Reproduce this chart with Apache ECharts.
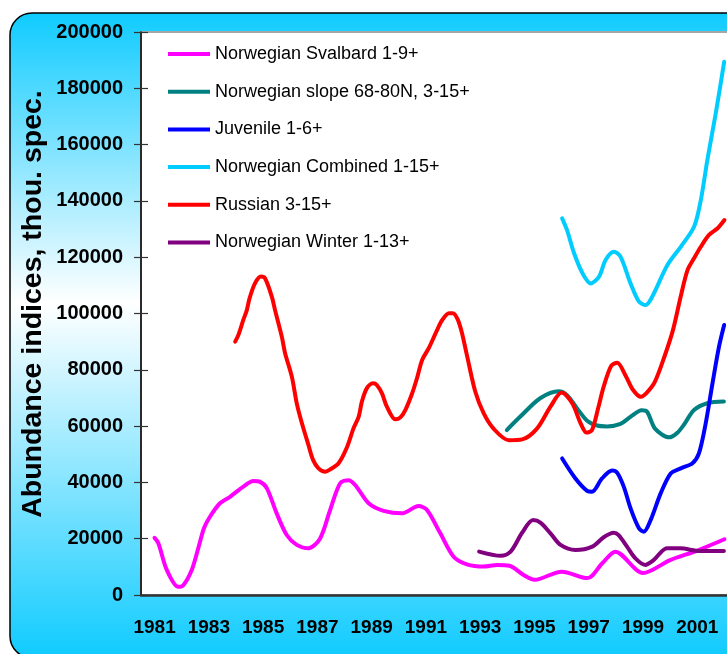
<!DOCTYPE html>
<html>
<head>
<meta charset="utf-8">
<script src="https://cdn.jsdelivr.net/npm/echarts@6/dist/echarts.min.js"></script>
<style>
  html, body { margin: 0; padding: 0; background: #fff; overflow: hidden; }
  /* plot area runs a little past the right edge of the window, as in the source picture */
  #chart { width: 738px; height: 654px; }
</style>
</head>
<body>
<div id="chart"></div>
<script>
// years on the category axis (labels every second year)
var years = ['1981','1982','1983','1984','1985','1986','1987','1988','1989','1990','1991',
             '1992','1993','1994','1995','1996','1997','1998','1999','2000','2001','2002'];

// [year, abundance]
var svalbard = [[1981.0,20300],[1981.14,18400],[1981.45,8900],[1981.87,2900],[1982.06,3500],[1982.37,8900],
  [1982.61,16600],[1982.82,23700],[1983.04,27800],[1983.41,32600],[1983.78,34900],[1984.27,38500],
  [1984.64,40500],[1984.89,40200],[1985.14,37900],[1985.5,29000],[1985.87,21300],[1986.24,17800],
  [1986.67,16600],[1987.1,20100],[1987.47,30200],[1987.84,39700],[1988.15,40800],[1988.4,39000],
  [1988.89,32600],[1989.44,29900],[1990.12,29000],[1990.73,31600],[1991.04,30200],[1991.53,21900],
  [1992.02,13600],[1992.51,10900],[1993.13,10100],[1993.62,10700],[1994.08,10400],[1994.6,7100],
  [1995.0,5400],[1996.0,8300],[1996.95,6000],[1997.5,11300],[1997.98,15400],[1999.0,7800],
  [2000.0,12400],[2001.0,15800],[2002.0,19800]];

var slope = [[1993.98,58600],[1994.47,63300],[1995.21,69900],[1995.89,72400],[1996.2,71000],[1996.57,66300],
  [1996.94,61900],[1997.31,60200],[1997.68,59900],[1998.17,60800],[1998.54,63300],[1998.95,65600],
  [1999.15,65100],[1999.45,59000],[1999.97,56000],[2000.25,57500],[2000.5,60400],[2000.88,65700],
  [2001.37,68100],[2001.98,68700]];

var juvenile = [[1996.02,48500],[1996.51,41400],[1996.94,37000],[1997.12,36700],[1997.49,41400],[1997.86,44200],
  [1998.05,43400],[1998.29,38500],[1998.54,30800],[1998.85,23700],[1999.03,22500],[1999.28,26600],
  [1999.65,36100],[2000.02,43200],[2000.39,45000],[2000.82,46800],[2001.06,50300],[2001.31,61000],
  [2001.56,75200],[2001.8,88200],[2001.99,95900]];

var combined = [[1996.02,133800],[1996.2,129600],[1996.46,121400],[1996.77,114300],[1997.07,110700],
  [1997.38,113100],[1997.62,119000],[1997.93,121900],[1998.17,120200],[1998.54,110700],[1998.85,104200],
  [1999.1,103000],[1999.34,106000],[1999.9,117200],[2000.39,123700],[2000.88,130800],[2001.13,140300],
  [2001.37,154500],[2001.68,171100],[2001.99,189400]];

var russian = [[1983.97,90000],[1984.09,92400],[1984.27,97700],[1984.4,101200],[1984.5,105400],[1984.7,110700],
  [1984.92,113100],[1985.07,112500],[1985.32,106000],[1985.44,101200],[1985.69,91700],[1985.81,85900],
  [1986.06,77500],[1986.24,68100],[1986.43,61000],[1986.67,53300],[1986.84,48000],[1987.04,45000],
  [1987.29,43800],[1987.47,44600],[1987.78,46800],[1988.09,52500],[1988.33,59200],[1988.52,63300],
  [1988.64,68700],[1988.82,73400],[1989.05,75200],[1989.19,74600],[1989.38,71600],[1989.56,66900],
  [1989.87,62400],[1990.06,63100],[1990.24,65700],[1990.49,71600],[1990.67,77000],[1990.86,83500],
  [1991.1,87600],[1991.41,94100],[1991.6,97700],[1991.85,100100],[1991.99,100100],[1992.17,97900],
  [1992.33,93000],[1992.51,85200],[1992.82,72200],[1993.13,64500],[1993.5,59000],[1994.05,55000],
  [1994.55,55300],[1995.1,59200],[1995.59,66900],[1996.0,71900],[1996.39,68100],[1996.7,61000],
  [1996.92,57700],[1997.12,58600],[1997.35,66500],[1997.55,74000],[1997.83,81400],[1998.05,82500],
  [1998.35,78100],[1998.62,73000],[1998.92,70400],[1999.15,72000],[1999.44,75800],[1999.8,85000],
  [2000.1,94000],[2000.4,106500],[2000.64,115400],[2000.88,119600],[2001.13,123700],[2001.43,127900],
  [2001.74,130200],[2002.0,133200]];

var winter = [[1992.96,15400],[1993.76,13900],[1994.12,15400],[1994.55,22200],[1994.95,26600],[1995.22,25700],
  [1995.59,21900],[1995.96,17800],[1996.51,16000],[1997.13,17200],[1997.55,20500],[1997.92,22100],
  [1998.1,21300],[1998.41,17200],[1998.72,13000],[1999.08,10700],[1999.39,12400],[1999.88,16600],
  [2000.37,16600],[2001.1,15600],[2001.98,15600]];

var names = ['Norwegian Svalbard 1-9+','Norwegian slope 68-80N, 3-15+','Juvenile 1-6+',
             'Norwegian Combined 1-15+','Russian 3-15+','Norwegian Winter 1-13+'];
var colors = ['#FF00FF','#008080','#0000FF','#00CCFF','#FF0000','#800080'];
var lines = [svalbard, slope, juvenile, combined, russian, winter];

var chart = echarts.init(document.getElementById('chart'));
var font = 'Liberation Sans, Arial, sans-serif';

function mkSeries(i){
  return {
    name: names[i],
    type: 'line',
    xAxisIndex: 1,
    yAxisIndex: 0,
    data: lines[i],
    smooth: 0.3,
    symbol: 'none',
    color: colors[i],
    lineStyle: { width: 4, color: colors[i], cap: 'round', join: 'round' }
  };
}

var option = {
  animation: false,
  backgroundColor: '#fff',
  graphic: [
    {
      type: 'rect', z: -100,
      shape: { x: 10, y: 13, width: 800, height: 645, r: 22 },
      style: {
        fill: new echarts.graphic.LinearGradient(0, 0, 0, 1, [
          { offset: 0, color: '#0FCBFF' },
          { offset: 0.45, color: '#FFFFFF' },
          { offset: 1, color: '#0FCBFF' }
        ]),
        stroke: '#000', lineWidth: 1.5
      }
    },
    {
      type: 'text', z: 100,
      x: 33, y: 304, rotation: Math.PI / 2,
      style: {
        text: 'Abundance indices, thou. spec.',
        font: 'bold 28.5px ' + font,
        fill: '#000',
        align: 'center', verticalAlign: 'middle'
      }
    }
  ],
  grid: {
    left: 141, top: 32, right: 0, bottom: 59,
    show: true, backgroundColor: '#fff', borderColor: '#A6A6A6', borderWidth: 2
  },
  legend: {
    orient: 'vertical', left: 168, top: 45, padding: 0, itemGap: 19.7,
    itemWidth: 42, itemHeight: 4, icon: 'rect',
    textStyle: { fontFamily: font, fontSize: 18, color: '#000' },
    data: names
  },
  xAxis: [
    {
      type: 'category', data: years, position: 'bottom', boundaryGap: true,
      axisLine: { lineStyle: { color: '#333', width: 2.5 } },
      axisTick: { interval: 0, length: 6, lineStyle: { color: '#000', width: 1.2 } },
      axisLabel: { interval: 1, margin: 23, fontFamily: font, fontWeight: 'bold', fontSize: 19, color: '#000' },
      splitLine: { show: false }
    },
    {
      type: 'value', min: 1980.5, max: 2002.5, show: false
    },
    {
      type: 'category', data: years, position: 'bottom', boundaryGap: true,
      axisLine: { show: false },
      axisTick: { interval: 0, inside: true, length: 7, lineStyle: { color: '#000', width: 1.2 } },
      axisLabel: { show: false },
      splitLine: { show: false }
    }
  ],
  yAxis: [
    {
      type: 'value', min: 0, max: 200000, interval: 20000,
      axisLine: { show: true, lineStyle: { color: '#000', width: 1.5 } },
      axisTick: { show: true, length: 7, lineStyle: { color: '#333', width: 1.2 } },
      axisLabel: {
        margin: 18, fontFamily: font, fontWeight: 'bold', fontSize: 20, color: '#000',
        formatter: function (v) { return String(v); }
      },
      splitLine: { show: false }
    },
    {
      type: 'value', min: 0, max: 200000, interval: 20000, position: 'left',
      axisLine: { show: false },
      axisTick: { show: true, inside: true, length: 7, lineStyle: { color: '#333', width: 1.2 } },
      axisLabel: { show: false },
      splitLine: { show: false }
    }
  ],
  series: [0, 1, 2, 3, 4, 5].map(mkSeries)
};

chart.setOption(option);
</script>
</body>
</html>
